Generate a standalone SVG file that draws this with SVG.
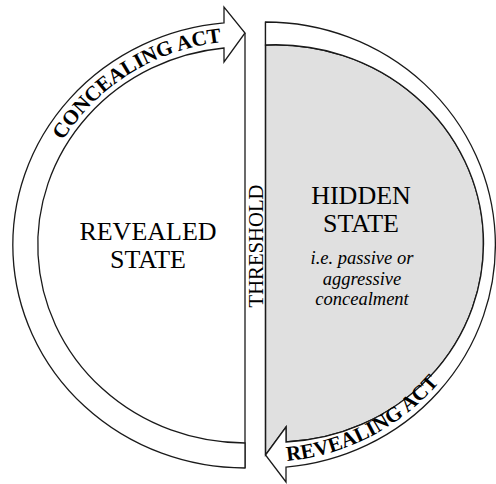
<svg xmlns="http://www.w3.org/2000/svg" width="496" height="484" viewBox="0 0 496 484">
<defs>
<path id="pc" d="M 33 245 A 212 204 0 0 1 245 41"/>
<path id="pr" d="M 265 462 A 225 217 0 0 0 490 245"/>
</defs>
<rect width="496" height="484" fill="#ffffff"/>
<g id="revealed-state">
<path d="M 245 33 L 224 62 L 224 48 A 207 198 0 0 0 245 443 Z" fill="#ffffff"/>
<text x="148" y="240" font-size="26" text-anchor="middle" font-family="Times New Roman">REVEALED</text>
<text x="148" y="268" font-size="26" text-anchor="middle" font-family="Times New Roman">STATE</text>
</g>
<g id="hidden-state">
<path d="M 265.5 45 A 207 198 0 0 1 286 442 L 286 427 L 265.5 455 Z" fill="#e0e0e0" stroke="#1a1a1a" stroke-width="1.3"/>
<text x="361" y="204" font-size="26" text-anchor="middle" font-family="Times New Roman">HIDDEN</text>
<text x="361" y="232" font-size="26" text-anchor="middle" font-family="Times New Roman">STATE</text>
<text x="362" y="264" font-size="18.5" font-style="italic" text-anchor="middle" font-family="Times New Roman">i.e. passive or</text>
<text x="362" y="285" font-size="18.5" font-style="italic" text-anchor="middle" font-family="Times New Roman">aggressive</text>
<text x="362" y="305" font-size="18.5" font-style="italic" text-anchor="middle" font-family="Times New Roman">concealment</text>
</g>
<g id="threshold">
<line x1="245" y1="33" x2="245" y2="468" stroke="#1a1a1a" stroke-width="1.3"/>
<line x1="265.5" y1="22" x2="265.5" y2="455" stroke="#1a1a1a" stroke-width="1.3"/>
<text font-family="Times New Roman" font-size="22" text-anchor="middle" transform="translate(262.5 246) rotate(-90)" textLength="123" lengthAdjust="spacingAndGlyphs">THRESHOLD</text>
</g>
<g id="connectors">
<g id="concealing-act">
<path fill="#ffffff" stroke="#1a1a1a" stroke-width="1.3" d="M 245 468 A 232 223 0 0 1 224 22.9 L 224 7 L 245 33 L 224 62 L 224 48 A 207 198 0 0 0 245 443 Z"/>
<text font-family="Times New Roman" font-size="21" font-weight="bold"><textPath href="#pc" startOffset="110">CONCEALING ACT</textPath></text>
</g>
<g id="revealing-act">
<path fill="#ffffff" stroke="#1a1a1a" stroke-width="1.3" d="M 265.5 22 A 230 223 0 0 1 286 467.1 L 286 482 L 265.5 455 L 286 427 L 286 442 A 207 198 0 0 0 265.5 45 Z"/>
<text font-family="Times New Roman" font-size="21" font-weight="bold"><textPath href="#pr" startOffset="22">REVEALING ACT</textPath></text>
</g>
</g>
</svg>
